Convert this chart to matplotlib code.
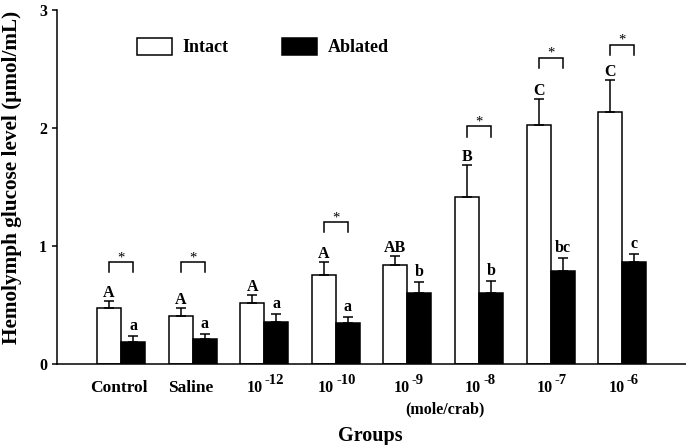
import matplotlib
matplotlib.use("Agg")
import matplotlib.pyplot as plt
import numpy as np

# ---- data ----
categories = ["Control", "Saline", "10^-12", "10^-10", "10^-9", "10^-8", "10^-7", "10^-6"]
tick_bases = ["Control", "Saline", "10", "10", "10", "10", "10", "10"]
tick_exps = ["", "", "-12", "-10", "-9", "-8", "-7", "-6"]
intact = [0.47, 0.41, 0.52, 0.75, 0.84, 1.41, 2.02, 2.13]
intact_err = [0.06, 0.06, 0.06, 0.11, 0.076, 0.27, 0.22, 0.27]
ablated = [0.19, 0.215, 0.355, 0.345, 0.605, 0.605, 0.79, 0.865]
ablated_err = [0.045, 0.037, 0.065, 0.053, 0.093, 0.10, 0.104, 0.063]
intact_letters = ["A", "A", "A", "A", "AB", "B", "C", "C"]
ablated_letters = ["a", "a", "a", "a", "b", "b", "bc", "c"]
sig_groups = [0, 1, 3, 5, 6, 7]
sig_tops = [0.86, 0.86, 1.20, 2.01, 2.59, 2.70]
yticks = [0, 1, 2, 3]

plt.rcParams['font.family'] = ['Liberation Serif', 'DejaVu Serif']
plt.rcParams['font.weight'] = 'bold'

W, H = 686, 445
fig = plt.figure(figsize=(W / 100, H / 100), dpi=100)
ax_left, ax_right, ax_bottom, ax_top = 57, 686, 364, 9.5
ax = fig.add_axes([ax_left / W, (H - ax_bottom) / H,
                   (ax_right - ax_left) / W, (ax_bottom - ax_top) / H])

n = len(categories)
x = np.arange(n)
w = 0.335
lw = 1.1
ax.bar(x - w / 2, intact, w, color='white', edgecolor='black', linewidth=lw,
       label='Intact', zorder=2)
ax.bar(x + w / 2, ablated, w, color='black', edgecolor='black', linewidth=lw,
       label='Ablated', zorder=2)
ax.errorbar(x - w / 2, intact, yerr=[np.zeros(n), intact_err], fmt='none',
            ecolor='black', elinewidth=lw, capsize=3.6, capthick=lw, zorder=3)
ax.errorbar(x + w / 2, ablated, yerr=[np.zeros(n), ablated_err], fmt='none',
            ecolor='black', elinewidth=lw, capsize=3.6, capthick=lw, zorder=3)

px = 0.72  # points per pixel
for i in range(n):
    ax.annotate(intact_letters[i], xy=(x[i] - w / 2, intact[i] + intact_err[i]),
                xytext=(0, 4 * px), textcoords='offset points',
                ha='center', va='baseline', fontsize=11.5)
    ax.annotate(ablated_letters[i], xy=(x[i] + w / 2, ablated[i] + ablated_err[i]),
                xytext=(0, 6 * px), textcoords='offset points',
                ha='center', va='baseline', fontsize=11.5)

leg = 0.085
for g, top in zip(sig_groups, sig_tops):
    ax.plot([g - w / 2, g - w / 2, g + w / 2, g + w / 2],
            [top - leg, top, top, top - leg], color='black', lw=lw,
            solid_joinstyle='miter', zorder=3)
    ax.annotate('*', xy=(g, top), xytext=(0, 1.0 * px), textcoords='offset points',
                ha='center', va='baseline', fontsize=10.5, fontweight='normal')

ax.set_xlim(-0.894, 7.89)
ax.set_ylim(0, 3)
ax.set_yticks(yticks)
ax.set_yticklabels([str(v) for v in yticks])
ax.set_xticks([])
for s in ['top', 'right']:
    ax.spines[s].set_visible(False)
for s in ['left', 'bottom']:
    ax.spines[s].set_linewidth(lw)
ax.tick_params(axis='y', direction='out', length=3.6, width=lw, pad=3.6,
               labelsize=11.5)

# x tick labels (with raised exponents)
trans = ax.get_xaxis_transform()
base_y = -(391.5 - ax_bottom) * px  # offset in points below axis
raise_y = 7.5 * px
fig.canvas.draw()
renderer = fig.canvas.get_renderer()
for i in range(n):
    if tick_exps[i] == "":
        ax.annotate(tick_bases[i], xy=(x[i], 0), xycoords=trans,
                    xytext=(-2 * px, base_y), textcoords='offset points',
                    ha='center', va='baseline', fontsize=12.5)
    else:
        t1 = ax.annotate(tick_bases[i], xy=(x[i], 0), xycoords=trans,
                         xytext=(0, base_y), textcoords='offset points',
                         ha='left', va='baseline', fontsize=11.5)
        t2 = ax.annotate(tick_exps[i], xy=(x[i], 0), xycoords=trans,
                         xytext=(0, base_y + raise_y), textcoords='offset points',
                         ha='left', va='baseline', fontsize=10.5)
        w1 = t1.get_window_extent(renderer).width
        w2 = t2.get_window_extent(renderer).width
        gap = 2.0
        total = w1 + gap + w2
        start = -total / 2 + 1
        t1.xyann = (start * px, base_y)
        t2.xyann = ((start + w1 + gap) * px, base_y + raise_y)

ax.annotate("(mole/crab)", xy=(4.525, 0), xycoords=trans,
            xytext=(0, -(413 - ax_bottom) * px), textcoords='offset points',
            ha='center', va='baseline', fontsize=11.5)

fig.text(370 / W, (H - 440.5) / H, "Groups", ha='center', va='baseline',
         fontsize=14.5)
fig.text(12.5 / W, 1 - 177.5 / H, "Hemolymph glucose level (\u03bcmol/mL)",
         rotation=90, ha='center', va='center', fontsize=15.3)

ax.legend(loc='center left', bbox_to_anchor=((137 - ax_left) / (ax_right - ax_left),
                                             (ax_bottom - 47) / (ax_bottom - ax_top)),
          ncol=2, frameon=False, fontsize=13, handlelength=1.94, handleheight=1.1,
          handletextpad=0.56, columnspacing=3.0, borderpad=0, borderaxespad=0)

fig.savefig("out.png", dpi=100)
